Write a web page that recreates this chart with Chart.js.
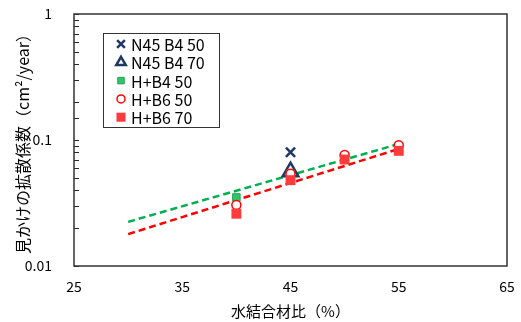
<!DOCTYPE html>
<html>
<head>
<meta charset="utf-8">
<script src="https://cdn.jsdelivr.net/npm/chart.js"></script>
<style>
  html, body { margin: 0; padding: 0; background: #fff; }
  #wrap { width: 521px; height: 322px; }
</style>
</head>
<body>
<div id="wrap"><canvas id="chart" width="521" height="322"></canvas></div>
<script>
// data
const seriesNames = ['N45 B4 50', 'N45 B4 70', 'H+B4 50', 'H+B6 50', 'H+B6 70'];
const xN45 = [45];
const n45B4_50 = [0.080];
const n45B4_70 = [0.056];
const xH = [40, 45, 50, 55];
const hB4_50 = [0.035, 0.054, 0.072, 0.088];
const hB6_50 = [0.0305, 0.054, 0.076, 0.091];
const hB6_70 = [0.026, 0.048, 0.070, 0.082];
const trendX = [30, 55];
const trendB4 = [0.0224, 0.093];
const trendB6 = [0.0179, 0.085];
const xTickValues = [25, 35, 45, 55, 65];
const yTickLabels = ['0.01', '0.1', '1'];

const FONT = "'Noto Sans CJK JP', 'Noto Sans', sans-serif";
const NAVY = '#1F3864';
const GREEN = '#33C46A';
const RED = '#FF0000';
const RED_SQ = '#FF3B3B';

function pts(xs, ys) {
    return xs.map((x, i) => ({ x: x, y: ys[i] }));
}

// lr = radius used for the small legend markers
const markerSeries = [
    { data: pts(xN45, n45B4_50), style: 'crossRot', radius: 6.5, lr: 5.5, fill: NAVY, border: NAVY, bw: 2.5 },
    { data: pts(xN45, n45B4_70), style: 'triangle', radius: 9, lr: 5.5, fill: '#fff', border: NAVY, bw: 2.5 },
    { data: pts(xH, hB4_50), style: 'rect', radius: 5.3, lr: 4.6, fill: GREEN, border: '#24A352', bw: 1 },
    { data: pts(xH, hB6_50), style: 'circle', radius: 4.5, lr: 4, fill: '#fff', border: RED, bw: 1.5 },
    { data: pts(xH, hB6_70), style: 'rect', radius: 7, lr: 6.4, fill: RED_SQ, border: RED_SQ, bw: 0 }
];

const datasets = markerSeries.map((s, i) => ({
    label: seriesNames[i],
    data: s.data,
    pointStyle: s.style,
    pointRadius: s.radius,
    pointHoverRadius: s.radius,
    pointBackgroundColor: s.fill,
    pointBorderColor: s.border,
    pointBorderWidth: s.bw,
    showLine: false,
    order: 5 - i
}));

datasets.push({
    label: 'trend B4',
    data: pts(trendX, trendB4),
    showLine: true,
    borderColor: '#00B050',
    borderWidth: 2.5,
    borderDash: [7, 4],
    pointRadius: 0,
    order: 10
});
datasets.push({
    label: 'trend B6',
    data: pts(trendX, trendB6),
    showLine: true,
    borderColor: RED,
    borderWidth: 2.5,
    borderDash: [7, 4],
    pointRadius: 0,
    order: 11
});

// plot frame + inward minor ticks on the log axis
const frame = {
    id: 'frame',
    afterDraw(chart) {
        const ctx = chart.ctx;
        const a = chart.chartArea;
        const y = chart.scales.y;
        ctx.save();
        ctx.strokeStyle = '#262626';
        ctx.lineWidth = 1;
        y.ticks.forEach(t => {
            const py = Math.round(y.getPixelForValue(t.value)) + 0.5;
            ctx.beginPath();
            ctx.moveTo(a.left, py);
            ctx.lineTo(a.left + 5, py);
            ctx.stroke();
        });
        ctx.lineWidth = 1.5;
        ctx.strokeStyle = '#333';
        ctx.strokeRect(a.left, a.top, a.right - a.left, a.bottom - a.top);
        ctx.restore();
    }
};

// boxed legend inside the plot
const legendBox = {
    id: 'legendBox',
    afterDraw(chart) {
        const ctx = chart.ctx;
        const a = chart.chartArea;
        const bx = a.left + 29, by = a.top + 19;
        ctx.save();
        ctx.fillStyle = '#fff';
        ctx.fillRect(bx, by, 116, 94);
        ctx.strokeStyle = '#333';
        ctx.lineWidth = 1;
        ctx.strokeRect(bx + 0.5, by + 0.5, 116, 94);
        ctx.font = '16px ' + FONT;
        ctx.textBaseline = 'middle';
        markerSeries.forEach((s, i) => {
            const cy = by + 11 + i * 18.3;
            ctx.fillStyle = s.fill;
            ctx.strokeStyle = s.border;
            ctx.lineWidth = s.bw;
            Chart.helpers.drawPoint(ctx, {
                pointStyle: s.style, radius: s.lr, borderWidth: s.bw, rotation: 0
            }, bx + 18, cy);
            ctx.fillStyle = '#000';
            ctx.fillText(seriesNames[i], bx + 28, cy + 1);
        });
        ctx.restore();
    }
};

new Chart(document.getElementById('chart'), {
    type: 'scatter',
    data: { datasets: datasets },
    options: {
        responsive: false,
        animation: false,
        devicePixelRatio: 1,
        layout: { padding: { top: 14, right: 14, left: 0, bottom: 0 } },
        plugins: {
            legend: { display: false },
            tooltip: { enabled: false }
        },
        scales: {
            x: {
                type: 'linear',
                min: 25,
                max: 65,
                afterFit: s => {
                    s.height = 56;
                    s.paddingLeft = 0;
                    s.paddingRight = 0;
                },
                afterBuildTicks: s => { s.ticks = xTickValues.map(v => ({ value: v })); },
                grid: { display: false },
                border: { display: false },
                ticks: { color: '#000', font: { family: FONT, size: 14 }, padding: 4 },
                title: {
                    display: true,
                    text: '水結合材比（%）',
                    color: '#000',
                    font: { family: FONT, size: 15 },
                    padding: { top: 0, bottom: 2 }
                }
            },
            y: {
                type: 'logarithmic',
                min: 0.01,
                max: 1,
                afterFit: s => {
                    s.width = 74;
                    s.paddingTop = 0;
                    s.paddingBottom = 0;
                },
                grid: { display: false },
                border: { display: false },
                ticks: {
                    color: '#000',
                    font: { family: FONT, size: 14 },
                    padding: 14,
                    autoSkip: false,
                    callback: function (v) {
                        const e = Math.log10(v);
                        if (Math.abs(e - Math.round(e)) < 1e-6) {
                            return yTickLabels[Math.round(e) + 2];
                        }
                        return '';
                    }
                },
                title: {
                    display: true,
                    text: '見かけの拡散係数（cm²/year）',
                    color: '#000',
                    font: { family: FONT, size: 16 },
                    padding: { top: 13, bottom: 0 }
                }
            }
        }
    },
    plugins: [frame, legendBox]
});
</script>
</body>
</html>
